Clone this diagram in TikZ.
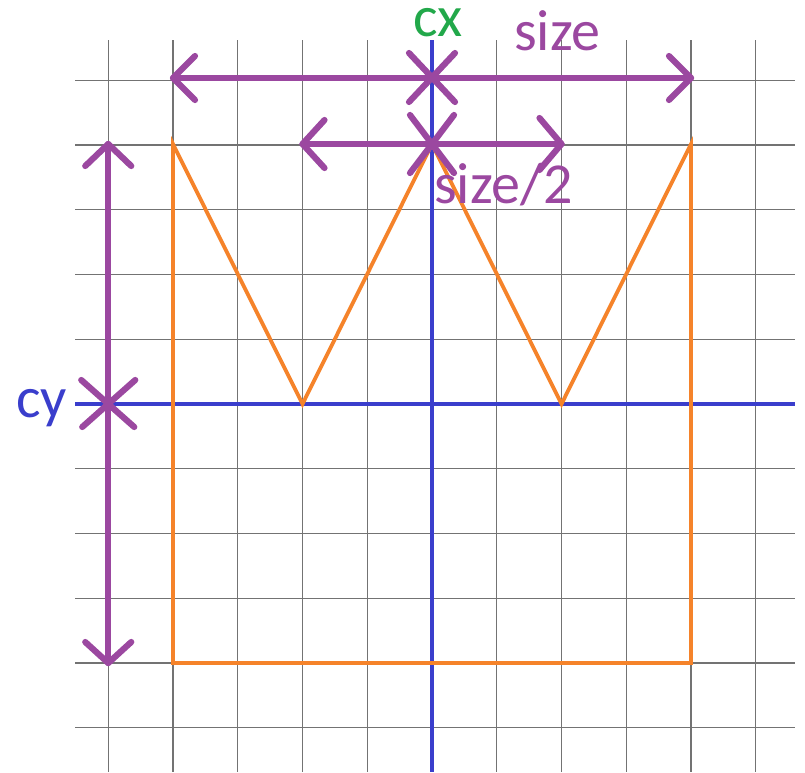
\documentclass[tikz,border=0pt]{standalone}
\usepackage{fontspec}
\setmainfont{Carlito}
\usetikzlibrary{calc}
\definecolor{pur}{RGB}{155,72,160}
\definecolor{grn}{RGB}{34,168,74}
\definecolor{blu}{RGB}{58,62,204}
\definecolor{org}{RGB}{245,131,42}
\tikzset{
  gridline/.style={draw=black!55,line width=1.1pt},
  axisline/.style={draw=blu,line width=3.2pt},
  shapeline/.style={draw=org,line width=3.8pt,line join=miter},
  measure/.style={draw=pur,line width=6.2pt,line cap=round,line join=round},
  lbl/.style={inner sep=0pt,anchor=base west,font=\fontsize{58}{62}\selectfont}
}
\begin{document}
\begin{tikzpicture}[x=1pt,y=-1pt]
\useasboundingbox (0,0) rectangle (805,772);
% grid
\foreach \k in {-5,...,5}{
  \draw[gridline] ({432+64.75*\k},40) -- ({432+64.75*\k},772);
  \draw[gridline] (75,{404+64.75*\k}) -- (795,{404+64.75*\k});
}
% axes
\draw[axisline] (432,40) -- (432,772);
\draw[axisline] (75,404) -- (795,404);
% orange shape
\coordinate (p1) at (173,663);
\coordinate (p2) at (173,144);
\coordinate (p3) at (302.5,404);
\coordinate (p4) at (432,144);
\coordinate (p5) at (561.5,404);
\coordinate (p6) at (691,144);
\coordinate (p7) at (691,663);
\draw[shapeline] (p1) -- (p2) -- (p3) -- (p4) -- (p5) -- (p6) -- (p7) -- cycle;
% size arrow
\coordinate (sl) at (173,78);
\coordinate (sc) at (432,78);
\coordinate (sr) at (691,78);
\draw[measure] (sl) -- (sr);
\draw[measure] ($(sl)+(22,-22)$) -- (sl) -- ($(sl)+(22,22)$);
\draw[measure] ($(sr)+(-22,-22)$) -- (sr) -- ($(sr)+(-22,22)$);
\draw[measure] ($(sc)+(-23,-25)$) -- ($(sc)+(23,24)$);
\draw[measure] ($(sc)+(23,-25)$) -- ($(sc)+(-23,24)$);
% size/2 arrow
\coordinate (hl) at (302.5,144);
\coordinate (hc) at (432,144);
\coordinate (hr) at (561.5,144);
\draw[measure] (hl) -- (hr);
\draw[measure] ($(hl)+(22,-24)$) -- (hl) -- ($(hl)+(22,24)$);
\draw[measure] ($(hr)+(-22,-26)$) -- (hr) -- ($(hr)+(-22,26)$);
\draw[measure] ($(hc)+(-22,-29)$) -- ($(hc)+(22,29)$);
\draw[measure] ($(hc)+(22,-29)$) -- ($(hc)+(-22,29)$);
% cy arrow
\coordinate (vt) at (108.25,144);
\coordinate (vc) at (108.25,404);
\coordinate (vb) at (108.25,663);
\draw[measure] (vt) -- (vb);
\draw[measure] ($(vt)+(-23,22)$) -- (vt) -- ($(vt)+(23,22)$);
\draw[measure] ($(vb)+(-23,-21)$) -- (vb) -- ($(vb)+(23,-21)$);
\draw[measure] ($(vc)+(-27,-24)$) -- ($(vc)+(26,23)$);
\draw[measure] ($(vc)+(27,-24)$) -- ($(vc)+(-26,23)$);
% labels
\node[lbl,text=grn] (cx) at (413,36) {cx};
\node[lbl,text=pur] (size) at (514,50) {size};
\node[lbl,text=pur] (half) at (434,203) {size/2};
\node[lbl,text=blu] (cy) at (16,417) {cy};
\end{tikzpicture}
\end{document}
